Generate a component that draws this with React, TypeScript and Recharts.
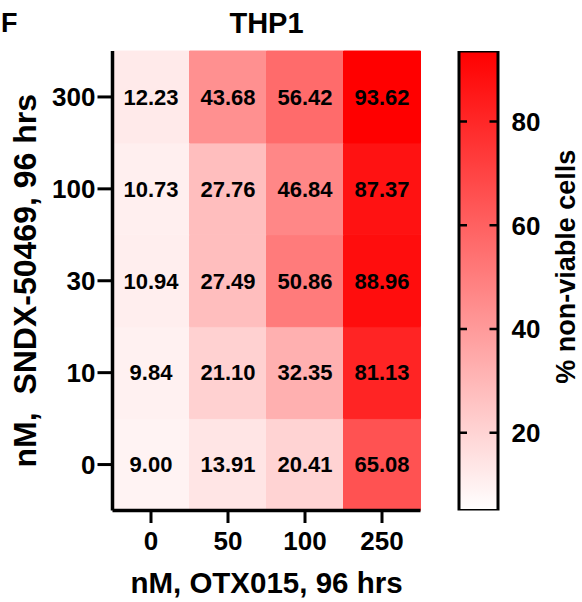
import React from 'react';
import { BarChart, Bar, XAxis, YAxis, Cell, LabelList, ReferenceLine } from 'recharts';

const otxDoses = ['0', '50', '100', '250'];
const sndxDoses = ['0', '10', '30', '100', '300'];
const row0 = [9.0, 13.91, 20.41, 65.08];
const row10 = [9.84, 21.1, 32.35, 81.13];
const row30 = [10.94, 27.49, 50.86, 88.96];
const row100 = [10.73, 27.76, 46.84, 87.37];
const row300 = [12.23, 43.68, 56.42, 93.62];
const rows = [row0, row10, row30, row100, row300];
const colorMin = 5;
const colorMax = 93.62;
const colorTicks = [20, 40, 60, 80];
const yTicks = [0.5, 1.5, 2.5, 3.5, 4.5];

const FONT = '"Liberation Sans", Arial, sans-serif';

function heatColor(v: number) {
  const t = Math.max(0, Math.min(1, (v - colorMin) / (colorMax - colorMin)));
  const c = Math.round(255 * (1 - t));
  return `rgb(255,${c},${c})`;
}

const heatData = otxDoses.map((d, ci) => {
  const o: any = { dose: d };
  rows.forEach((r, ri) => {
    o[`r${ri}`] = 1;
    o[`v${ri}`] = r[ci];
  });
  return o;
});

const barData = [{ k: 'c', range: [colorMin, colorMax] }];

const tickStyle = { fontSize: 26, fontWeight: 700, fill: '#000', fontFamily: FONT };

export default function App() {
  return (
    <div style={{ position: 'absolute', left: 0, top: 0, width: 582, height: 602, fontFamily: FONT, background: '#fff' }}>
      <div style={{ position: 'absolute', left: 0, top: 0 }}>
        <BarChart
          width={582}
          height={602}
          data={heatData}
          margin={{ top: 51, right: 161.5, bottom: 1.5, left: 12.5 }}
          barCategoryGap={0}
          barGap={0}
        >
          <XAxis
            xAxisId="b"
            dataKey="dose"
            height={90}
            tick={tickStyle}
            tickSize={12.5}
            tickMargin={9}
            tickLine={{ stroke: '#000', strokeWidth: 3 }}
            axisLine={{ stroke: '#000', strokeWidth: 3.5 }}
            label={{ value: 'nM, OTX015, 96 hrs', position: 'insideBottom', offset: 8, style: { fontSize: 29.5, fontWeight: 700, fill: '#000' } }}
          />
          <XAxis xAxisId="t" dataKey="dose" orientation="top" height={0} tick={false} tickLine={false} axisLine={{ stroke: '#000', strokeWidth: 3.5 }} />
          <YAxis
            yAxisId="l"
            type="number"
            domain={[0, 5]}
            ticks={yTicks}
            width={100}
            tickFormatter={(v: number) => sndxDoses[Math.floor(v)]}
            tick={tickStyle}
            tickSize={15}
            tickMargin={2}
            tickLine={{ stroke: '#000', strokeWidth: 3 }}
            axisLine={{ stroke: '#000', strokeWidth: 3.5 }}
            label={{ value: 'nM,\u00A0 SNDX-50469, 96 hrs', angle: -90, position: 'insideLeft', offset: 12, style: { textAnchor: 'middle', fontSize: 32, fontWeight: 700, fill: '#000' } }}
          />
          <YAxis yAxisId="r" orientation="right" type="number" domain={[0, 5]} width={0} tick={false} tickLine={false} axisLine={{ stroke: '#000', strokeWidth: 3.5 }} />
          {rows.map((r, ri) => (
            <Bar key={ri} xAxisId="b" yAxisId="l" dataKey={`r${ri}`} stackId="a" isAnimationActive={false}>
              {r.map((v, ci) => (
                <Cell key={ci} fill={heatColor(v)} stroke={heatColor(v)} strokeWidth={1} />
              ))}
              <LabelList
                dataKey={`v${ri}`}
                position="center"
                formatter={(v: any) => Number(v).toFixed(2)}
                style={{ fontSize: 22, fontWeight: 700, fill: '#000', fontFamily: FONT }}
              />
            </Bar>
          ))}
        </BarChart>
      </div>
      <div style={{ position: 'absolute', left: 0, top: 0 }}>
        <BarChart
          width={582}
          height={602}
          data={barData}
          margin={{ top: 51, right: 0, bottom: 91.5, left: 459 }}
          barCategoryGap={0}
        >
          <defs>
            <linearGradient id="cbar" x1="0" y1="0" x2="0" y2="1">
              <stop offset="0%" stopColor="#ff0000" />
              <stop offset="100%" stopColor="#ffffff" />
            </linearGradient>
          </defs>
          <XAxis dataKey="k" hide />
          <YAxis
            orientation="right"
            type="number"
            domain={[colorMin, colorMax]}
            ticks={colorTicks}
            allowDataOverflow
            width={84.5}
            tick={tickStyle}
            tickLine={false}
            axisLine={false}
            tickSize={0}
            tickMargin={14}
            label={{ value: '% non-viable cells', angle: -90, position: 'insideRight', offset: 17, dy: -14, style: { textAnchor: 'middle', fontSize: 27, fontWeight: 700, fill: '#000' } }}
          />
          <Bar dataKey="range" fill="url(#cbar)" stroke="#000" strokeWidth={3} isAnimationActive={false} />
          {colorTicks.map((t) => (
            <ReferenceLine key={t} y={t} stroke="#000" strokeWidth={2.5} strokeDasharray="8 22.5 8" />
          ))}
        </BarChart>
      </div>
      <svg width={582} height={602} style={{ position: 'absolute', left: 0, top: 0, pointerEvents: 'none' }}>
        <text x={1} y={32} fontSize={27} fontWeight={700} fill="#000" fontFamily={FONT}>F</text>
        <text x={266.5} y={33} fontSize={29} fontWeight={700} fill="#000" textAnchor="middle" fontFamily={FONT}>THP1</text>
      </svg>
    </div>
  );
}
